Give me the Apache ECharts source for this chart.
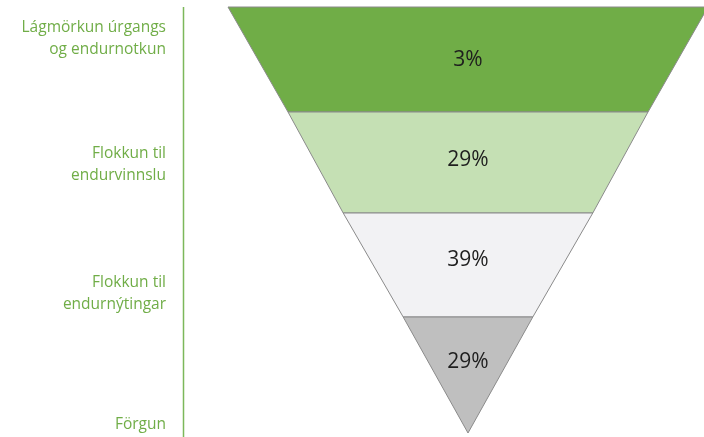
<!DOCTYPE html>
<html>
<head>
<meta charset="utf-8">
<script src="https://cdn.jsdelivr.net/npm/echarts@6/dist/echarts.min.js"></script>
<style>html,body{margin:0;padding:0;background:#fff}#c{width:704px;height:437px}</style>
</head>
<body>
<div id="c"></div>
<script>
// Stages (top to bottom)
const stages = ['Lágmörkun úrgangs\nog endurnotkun', 'Flokkun til\nendurvinnslu', 'Flokkun til\nendurnýtingar', 'Förgun'];
// Percentage shown in each stage
const shares = [3, 29, 39, 29];
// Relative width of the top edge of each funnel tier
const tierWidths = [100, 75, 52, 27];

const colors = ['#70ad47', '#c5e0b4', '#f2f2f4', '#bfbfbf'];
const tierHeights = [105, 101, 104, 116];
const labelDy = [1, -2, -5, -13];
const sideLabelY = [39, 165, 294, 425];

const chart = echarts.init(document.getElementById('c'), null, {renderer: 'canvas'});
chart.setOption({
  animation: false,
  series: [{
    type: 'funnel',
    left: 228, top: 7, width: 480, height: 426,
    min: 0, max: 100, minSize: '0%', maxSize: '100%',
    sort: 'none', gap: 0,
    silent: true,
    itemStyle: {borderColor: '#8a8a8a', borderWidth: 1},
    label: {
      show: true, position: 'inside', color: '#1e1e1e',
      fontFamily: 'Open Sans', fontSize: 21,
      formatter: p => shares[p.dataIndex] + '%'
    },
    labelLayout: p => ({dy: labelDy[p.dataIndex]}),
    labelLine: {show: false},
    emphasis: {disabled: true},
    data: stages.map((s, i) => ({
      name: s, value: tierWidths[i],
      itemStyle: {color: colors[i], height: tierHeights[i]}
    }))
  }],
  graphic: [
    {type: 'line', shape: {x1: 183.5, y1: 7, x2: 183.5, y2: 437}, style: {stroke: '#7cb85a', lineWidth: 1.5}}
  ].concat(stages.map((s, i) => ({
    type: 'text',
    x: 166, y: sideLabelY[i],
    style: {
      text: s, fill: '#70ad47', font: '15.5px "Open Sans"',
      textAlign: 'right', textVerticalAlign: 'middle', lineHeight: 22
    }
  })))
});
</script>
</body>
</html>
